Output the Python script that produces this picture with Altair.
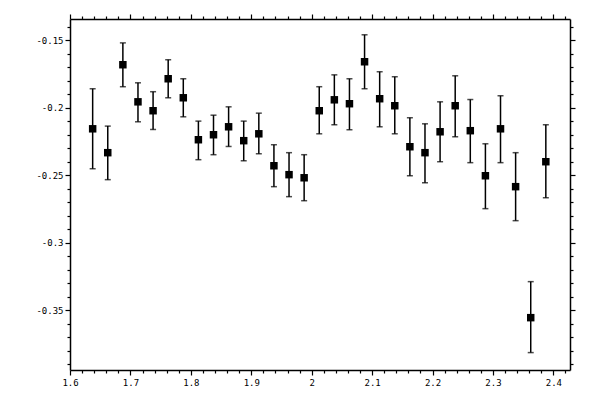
import altair as alt
import pandas as pd

x_pos = [1.6375, 1.6625, 1.6875, 1.7125, 1.7375, 1.7625, 1.7875, 1.8125, 1.8375, 1.8625,
         1.8875, 1.9125, 1.9375, 1.9625, 1.9875, 2.0125, 2.0375, 2.0625, 2.0875, 2.1125,
         2.1375, 2.1625, 2.1875, 2.2125, 2.2375, 2.2625, 2.2875, 2.3125, 2.3375, 2.3625, 2.3875]
y_val = [-0.2156, -0.2333, -0.1681, -0.1956, -0.2022, -0.1785, -0.1926, -0.2237, -0.2200, -0.2141,
         -0.2244, -0.2193, -0.2430, -0.2496, -0.2519, -0.2022, -0.1941, -0.1970, -0.1659, -0.1933,
         -0.1985, -0.2289, -0.2333, -0.2178, -0.1985, -0.2170, -0.2504, -0.2156, -0.2585, -0.3556, -0.2400]
y_hi = [-0.1859, -0.2136, -0.1519, -0.1815, -0.1881, -0.1644, -0.1785, -0.2099, -0.2055, -0.1993,
        -0.2099, -0.2040, -0.2274, -0.2333, -0.2348, -0.1844, -0.1756, -0.1785, -0.1459, -0.1733,
        -0.1770, -0.2074, -0.2119, -0.1956, -0.1763, -0.1939, -0.2267, -0.1911, -0.2333, -0.3289, -0.2126]
y_lo = [-0.2452, -0.2533, -0.1844, -0.2104, -0.2161, -0.1926, -0.2067, -0.2385, -0.2348, -0.2287,
        -0.2393, -0.2341, -0.2585, -0.2659, -0.2689, -0.2193, -0.2126, -0.2163, -0.1859, -0.2141,
        -0.2193, -0.2504, -0.2556, -0.2400, -0.2215, -0.2407, -0.2748, -0.2407, -0.2837, -0.3815, -0.2667]

x_ticks = [1.6, 1.62, 1.64, 1.66, 1.68, 1.7, 1.72, 1.74, 1.76, 1.78, 1.8, 1.82, 1.84, 1.86, 1.88,
           1.9, 1.92, 1.94, 1.96, 1.98, 2.0, 2.02, 2.04, 2.06, 2.08, 2.1, 2.12, 2.14, 2.16, 2.18,
           2.2, 2.22, 2.24, 2.26, 2.28, 2.3, 2.32, 2.34, 2.36, 2.38, 2.4, 2.42]
y_ticks = [-0.39, -0.38, -0.37, -0.36, -0.35, -0.34, -0.33, -0.32, -0.31, -0.3, -0.29, -0.28,
           -0.27, -0.26, -0.25, -0.24, -0.23, -0.22, -0.21, -0.2, -0.19, -0.18, -0.17, -0.16,
           -0.15, -0.14]

df = pd.DataFrame({"x": x_pos, "y": y_val, "hi": y_hi, "lo": y_lo})

xs = alt.Scale(domain=[1.6, 2.4275], nice=False, zero=False)
ys = alt.Scale(domain=[-0.3944, -0.1342], nice=False, zero=False)

x_major = "abs(datum.value*10 - round(datum.value*10)) < 1e-6"
y_major = "abs(datum.value*20 - round(datum.value*20)) < 1e-6"

common = dict(
    domainColor="black", domainWidth=1.5, tickColor="black", tickWidth=1.2,
    grid=False, title=None, labelOverlap=False, labelFlush=False,
    labelFont="DejaVu Sans Mono", labelFontSize=9, labelColor="black",
)

def x_axis(orient, labels):
    return alt.Axis(
        orient=orient, values=x_ticks, labels=labels, labelPadding=3,
        tickSize={"condition": {"test": x_major, "value": 5}, "value": 3},
        labelExpr=f"{x_major} ? format(datum.value, '~g') : ''",
        **common,
    )

def y_axis(orient, labels):
    return alt.Axis(
        orient=orient, values=y_ticks, labels=labels, labelPadding=2,
        tickSize={"condition": {"test": y_major, "value": 5}, "value": 3},
        labelExpr=f"{y_major} ? replace(format(datum.value, '~g'), '\u2212', '-') : ''",
        **common,
    )

base = alt.Chart(df)

rules = base.mark_rule(color="black", strokeWidth=1.5).encode(
    x=alt.X("x:Q", scale=xs, axis=x_axis("bottom", True)),
    y=alt.Y("lo:Q", scale=ys, axis=y_axis("left", True)),
    y2="hi:Q",
)

caps_hi = base.mark_tick(color="black", orient="horizontal", size=6, thickness=1.5).encode(
    x=alt.X("x:Q", scale=xs, axis=x_axis("top", False)),
    y=alt.Y("hi:Q", scale=ys, axis=y_axis("right", False)),
)

caps_lo = base.mark_tick(color="black", orient="horizontal", size=6, thickness=1.5).encode(
    x=alt.X("x:Q", scale=xs, axis=None),
    y=alt.Y("lo:Q", scale=ys, axis=None),
)

points = base.mark_square(color="black", size=56, opacity=1).encode(
    x=alt.X("x:Q", scale=xs, axis=None),
    y=alt.Y("y:Q", scale=ys, axis=None),
)

chart = alt.layer(rules, caps_hi, caps_lo, points).resolve_axis(
    x="independent", y="independent"
).properties(
    width=500, height=351,
    autosize=alt.AutoSizeParams(type="none"),
    padding={"left": 62, "top": 11, "right": 22, "bottom": 22},
    background="white",
).configure_view(stroke=None)

chart.save("out.html", embed_options={"renderer": "svg", "actions": False})
